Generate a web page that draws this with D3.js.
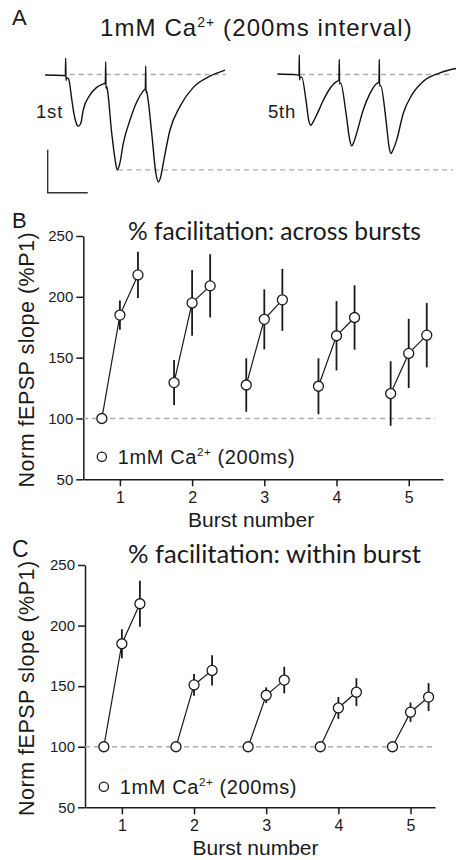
<!DOCTYPE html>
<html>
<head>
<meta charset="utf-8">
<script src="https://cdn.jsdelivr.net/npm/d3@7"></script>
<style>
body { margin: 0; background: #fff; }
text { font-family: "Liberation Sans", Arial, Helvetica, sans-serif; fill: #1a1a1a; }
.title { font-family: Lato, "Noto Sans", sans-serif; }
</style>
</head>
<body>
<script>
// Panel A example traces, [time (ms), field potential (mV)], t = 0 at 1st stimulus
var trace1st = [[-103,-0.006],[-13,-0.012],[-2,-0.015],[0,0.19],[1.5,-0.07],[5,-0.04],[14,-0.05],
  [31,-0.30],[40,-0.44],[52,-0.56],[63,-0.60],[75,-0.57],[88,-0.41],[121,-0.24],[155,-0.15],[188,-0.11],
  [198,-0.10],[200,0.15],[201.5,-0.16],[204,-0.14],[207,-0.16],[230,-0.68],[247,-0.99],[258,-1.11],
  [270,-1.04],[288,-0.80],[321.5,-0.53],[355,-0.32],[388,-0.19],[398,-0.165],[400,0.10],[401.5,-0.21],
  [404,-0.19],[407,-0.22],[430,-0.68],[451,-1.15],[463,-1.25],[475,-1.19],[488,-1.03],[521.5,-0.645],
  [571.5,-0.37],[638,-0.15],[721.5,-0.02],[796.5,0.05]];
var trace5th = [[-110,0.006],[-10,-0.004],[-1.5,-0.01],[0,0.227],[1.5,-0.064],[4,-0.03],[12,-0.03],
  [33.5,-0.30],[47,-0.53],[57,-0.59],[67,-0.56],[87,-0.47],[120,-0.30],[154,-0.16],[190,-0.076],
  [198,-0.07],[200,0.177],[201.5,-0.11],[207,-0.10],[233.5,-0.45],[253,-0.77],[262,-0.83],[272,-0.79],
  [287,-0.68],[320,-0.41],[353.5,-0.22],[390,-0.10],[398,-0.095],[400,0.177],[401.5,-0.13],[407,-0.13],
  [433.5,-0.53],[450,-0.86],[458.5,-0.92],[468,-0.88],[487,-0.76],[520,-0.45],[562,-0.24],[620,-0.08],
  [703.5,0.02],[783.5,0.07]];
var p2Trough1st = -1.11;          // level of the lower dashed guide
var scaleBarMs = 200, scaleBarMv = 0.5;

// Panels B and C: normalised fEPSP slope (%P1), mean and error per burst (3 pulses each)
var burstNumbers = [1, 2, 3, 4, 5];
var pulseOffsets = [-0.25, 0, 0.25];
var acrossMean = [[100,185,218],[129.5,195,209],[127.5,181.5,197.5],[126.5,168,183],[120.5,153.5,168.5]];
var acrossErr  = [[0,12,19],[18.5,27,26],[22,24.7,25.5],[23,28.5,26.5],[26.5,28.5,26.5]];
var withinMean = [[100,185,218],[100,151,163],[100,142.5,155],[100,132,145],[100,128.5,141]];
var withinErr  = [[0,12,19],[0,9,12.5],[0,6.5,11],[0,9,11.5],[0,8,11.5]];
var yTicks = [50, 100, 150, 200, 250];

var svg = d3.select("body").append("svg").attr("width", 456).attr("height", 860);

function ca(sel, size, spacing) {
  sel.style("font-size", size + "px").style("letter-spacing", spacing + "px");
  sel.append("tspan").text("1mM Ca");
  sel.append("tspan").attr("dy", -size * 0.38).style("font-size", (size * 0.58) + "px").text("2+");
  return sel.append("tspan").attr("dy", size * 0.38);
}

// ---------- Panel A ----------
svg.append("text").attr("x", 12).attr("y", 25).style("font-size", "22px").text("A");
var tA = svg.append("text").attr("x", 100).attr("y", 36);
ca(tA, 24, 1.1).text(" (200ms interval)");

var yTr = d3.scaleLinear().domain([0, -1]).range([74.5, 160.5]);
var xTr1 = d3.scaleLinear().domain([0, 200]).range([65.7, 105.7]);
var xTr2 = d3.scaleLinear().domain([0, 200]).range([299.3, 339.3]);

var dashA = svg.append("g").attr("stroke", "#aaa").attr("stroke-width", 1.3)
  .attr("stroke-dasharray", "5,4").attr("fill", "none");
dashA.append("line").attr("x1", xTr1(20)).attr("x2", xTr1(800)).attr("y1", yTr(0)).attr("y2", yTr(0));
dashA.append("line").attr("x1", xTr2(4)).attr("x2", xTr2(770)).attr("y1", yTr(0)).attr("y2", yTr(0));
dashA.append("line").attr("x1", xTr1(262)).attr("x2", xTr2(770))
  .attr("y1", yTr(p2Trough1st)).attr("y2", yTr(p2Trough1st));

[[trace1st, xTr1], [trace5th, xTr2]].forEach(function(p) {
  var line = d3.line().x(function(d) { return p[1](d[0]); }).y(function(d) { return yTr(d[1]); })
    .curve(d3.curveMonotoneX);
  svg.append("path").datum(p[0]).attr("d", line)
    .attr("fill", "none").attr("stroke", "#111").attr("stroke-width", 1.4);
});

svg.append("text").attr("x", 36).attr("y", 118.3).style("font-size", "18.5px")
  .style("letter-spacing", "0.8px").text("1st");
svg.append("text").attr("x", 268).attr("y", 118.3).style("font-size", "18.5px")
  .style("letter-spacing", "0.8px").text("5th");

// scale bar
var sbT = -90, sbV = -1.375;
svg.append("path")
  .attr("d", "M" + xTr1(sbT) + "," + yTr(sbV + scaleBarMv) + "V" + yTr(sbV) + "H" + xTr1(sbT + scaleBarMs))
  .attr("fill", "none").attr("stroke", "#333").attr("stroke-width", 1.4);

// ---------- Panels B, C ----------
function drawPanel(means, errs, cfg) {
  var g = svg.append("g");
  var x = d3.scaleLinear().domain(cfg.xDomain).range(cfg.xRange);
  var y = d3.scaleLinear().domain([50, 250]).range(cfg.yRange);

  g.append("text").attr("x", 12).attr("y", cfg.letterY).style("font-size", cfg.letterSize + "px").text(cfg.letter);

  var title = g.append("text").attr("class", "title").attr("x", 128).attr("y", cfg.titleY)
    .style("font-size", "21px").text(cfg.title);
  var len = title.node().getComputedTextLength();
  title.style("font-size", (21 * 293 / len) + "px");

  var ya = g.append("g").attr("transform", "translate(" + cfg.xRange[0] + ",0)")
    .call(d3.axisLeft(y).tickValues(yTicks).tickSize(7).tickSizeOuter(0).tickPadding(3));
  ya.selectAll("text").attr("font-family", null).style("font-size", "15px");
  var xa = g.append("g").attr("transform", "translate(0," + cfg.yRange[0] + ")")
    .call(d3.axisBottom(x).tickValues(burstNumbers).tickFormat(d3.format("d")).tickSize(7).tickSizeOuter(0).tickPadding(5));
  xa.selectAll("text").attr("font-family", null).style("font-size", "16px");
  g.selectAll(".domain, .tick line").attr("stroke", "#1a1a1a").attr("stroke-width", 1.5);

  g.append("line").attr("x1", cfg.xRange[0]).attr("x2", x(cfg.dashEnd))
    .attr("y1", y(100)).attr("y2", y(100))
    .attr("stroke", "#aaa").attr("stroke-width", 1.3).attr("stroke-dasharray", "5,4");

  var xMid = (cfg.xRange[0] + cfg.xRange[1]) / 2 + cfg.xLabelShift;
  g.append("text").attr("x", xMid).attr("y", cfg.yRange[0] + 47.5).attr("text-anchor", "middle")
    .style("font-size", "21px").text("Burst number");
  g.append("text").attr("transform", "translate(34," + ((cfg.yRange[0] + cfg.yRange[1]) / 2 + 2) + ") rotate(-90)")
    .attr("text-anchor", "middle").style("font-size", "21.5px").style("letter-spacing", "0.5px")
    .text("Norm fEPSP slope (%P1)");

  var bursts = g.selectAll(".burst").data(burstNumbers).enter().append("g").attr("class", "burst");
  bursts.each(function(b, i) {
    var pts = pulseOffsets.map(function(o, j) {
      return { x: x(b + o), m: means[i][j], e: errs[i][j] };
    });
    var bg = d3.select(this);
    bg.selectAll(".err").data(pts.filter(function(p) { return p.e > 0; })).enter().append("line")
      .attr("x1", function(p) { return p.x; }).attr("x2", function(p) { return p.x; })
      .attr("y1", function(p) { return y(p.m - p.e); }).attr("y2", function(p) { return y(p.m + p.e); })
      .attr("stroke", "#1a1a1a").attr("stroke-width", 1.8);
    bg.append("path").datum(pts)
      .attr("d", d3.line().x(function(p) { return p.x; }).y(function(p) { return y(p.m); }))
      .attr("fill", "none").attr("stroke", "#1a1a1a").attr("stroke-width", 1.2);
    bg.selectAll("circle").data(pts).enter().append("circle")
      .attr("cx", function(p) { return p.x; }).attr("cy", function(p) { return y(p.m); }).attr("r", 5)
      .attr("fill", "#fff").attr("stroke", "#1a1a1a").attr("stroke-width", 1.3);
  });

  // legend
  g.append("circle").attr("cx", x(0.75)).attr("cy", y(cfg.legendV)).attr("r", 4.6)
    .attr("fill", "#fff").attr("stroke", "#1a1a1a").attr("stroke-width", 1.3);
  var lt = g.append("text").attr("x", x(0.75) + 16).attr("y", y(cfg.legendV) + 6.8);
  ca(lt, 20, 0.6).text(" (200ms)");
}

drawPanel(acrossMean, acrossErr, {
  letter: "B", letterY: 228, letterSize: 22,
  title: "% facilitation: across bursts", titleY: 240,
  xDomain: [0.493, 5.475], xRange: [83.3, 443], yRange: [479.3, 236],
  dashEnd: 5.365, xLabelShift: -12, legendV: 68.5
});
drawPanel(withinMean, withinErr, {
  letter: "C", letterY: 557, letterSize: 23,
  title: "% facilitation: within burst", titleY: 563.3,
  xDomain: [0.489, 5.339], xRange: [85, 435], yRange: [807.3, 565],
  dashEnd: 5.339, xLabelShift: -4.5, legendV: 67
});
</script>
</body>
</html>
